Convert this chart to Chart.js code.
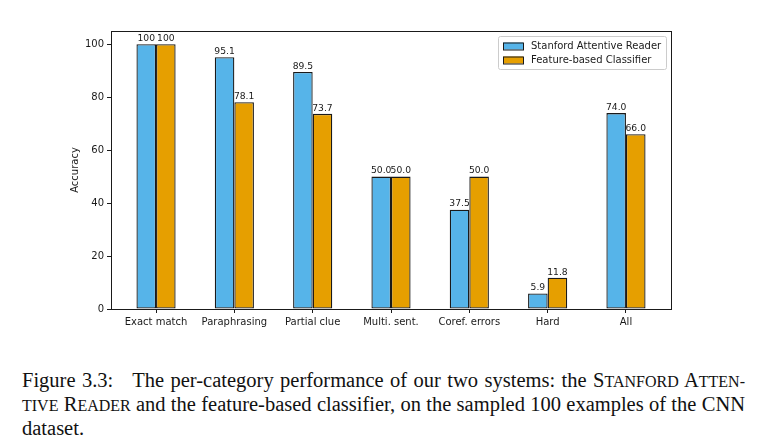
<!DOCTYPE html>
<html>
<head>
<meta charset="utf-8">
<script src="https://cdn.jsdelivr.net/npm/chart.js@4/dist/chart.umd.min.js"></script>
<style>
  body { margin: 0; background: #fff; }
  #wrap { position: relative; width: 765px; height: 446px; overflow: hidden; }
  #myChart { position: absolute; left: 0; top: 0; }
  .cap {
    position: absolute; left: 22px; top: 369px; width: 723px;
    font-family: "Liberation Serif", "Times New Roman", serif;
    font-size: 20.5px; line-height: 23px; color: #111;
  }
  .j { text-align: justify; text-align-last: justify; white-space: nowrap; }
  .sc { font-size: 0.78em; text-transform: uppercase; }
</style>
</head>
<body>
<div id="wrap">
  <canvas id="myChart" width="765" height="345"></canvas>
  <div class="cap">
    <div class="j">Figure 3.3:&nbsp;&nbsp; The per-category performance of our two systems: the S<span class="sc">tanford</span> A<span class="sc">tten-</span></div>
    <div class="j"><span class="sc">tive</span> R<span class="sc">eader</span> and the feature-based classifier, on the sampled 100 examples of the CNN</div>
    <div>dataset.</div>
  </div>
</div>
<script>
"use strict";
const categories = ["Exact match", "Paraphrasing", "Partial clue", "Multi. sent.", "Coref. errors", "Hard", "All"];
const stanfordReader = [100, 95.1, 89.5, 50.0, 37.5, 5.9, 74.0];
const featureClassifier = [100, 78.1, 73.7, 50.0, 50.0, 11.8, 66.0];
const yTicks = [0, 20, 40, 60, 80, 100];

const FONT = "DejaVu Sans";
const INK = "#1a1a1a";

function points(values) {
  return values.map(function (v, i) { return { x: i, y: v }; });
}

// frame around plot + value labels + boxed legend (matplotlib look)
const decorations = {
  id: "decorations",
  afterDatasetsDraw(chart) {
    const ctx = chart.ctx;
    const a = chart.chartArea;
    ctx.save();
    ctx.font = "9.2px " + FONT;
    ctx.fillStyle = INK;
    ctx.textAlign = "center";
    ctx.textBaseline = "bottom";
    chart.data.datasets.forEach(function (ds, i) {
      chart.getDatasetMeta(i).data.forEach(function (bar, j) {
        const v = ds.data[j].y;
        ctx.fillText(v === 100 ? "100" : v.toFixed(1), bar.x, bar.y - 1);
      });
    });
    // frame
    ctx.strokeStyle = INK;
    ctx.lineWidth = 1;
    ctx.strokeRect(Math.round(a.left) + 0.5, Math.round(a.top) + 0.5,
      Math.round(a.right - a.left), Math.round(a.bottom - a.top));
    // legend
    ctx.font = "10px " + FONT;
    const w = 168, h = 33;
    const lx = a.right - w - 5, ly = a.top + 5;
    ctx.fillStyle = "rgba(255,255,255,0.8)";
    ctx.strokeStyle = "#ccc";
    ctx.beginPath();
    ctx.roundRect(lx + 0.5, ly + 0.5, w, h, 2);
    ctx.fill();
    ctx.stroke();
    ctx.textAlign = "left";
    ctx.textBaseline = "middle";
    chart.data.datasets.forEach(function (ds, i) {
      const y = ly + 10 + i * 14;
      ctx.fillStyle = ds.backgroundColor;
      ctx.fillRect(lx + 5, y - 3.5, 20, 7);
      ctx.strokeStyle = ds.borderColor;
      ctx.strokeRect(lx + 5.5, y - 3, 20, 7);
      ctx.fillStyle = INK;
      ctx.fillText(ds.label, lx + 33, y + 0.5);
    });
    ctx.restore();
  },
};

const config = {
  type: "bar",
  data: {
    datasets: [
      {
        label: "Stanford Attentive Reader",
        data: points(stanfordReader),
        backgroundColor: "#56B4E9",
        borderColor: INK,
        borderWidth: 1.3,
        borderSkipped: false,
      },
      {
        label: "Feature-based Classifier",
        data: points(featureClassifier),
        backgroundColor: "#E69F00",
        borderColor: INK,
        borderWidth: 1.3,
        borderSkipped: false,
      },
    ],
  },
  options: {
    responsive: false,
    animation: false,
    categoryPercentage: 0.5,
    barPercentage: 1.0,
    layout: { padding: { left: 0, right: 94, top: 31, bottom: 0 } },
    plugins: { legend: { display: false }, tooltip: { enabled: false } },
    scales: {
      x: {
        type: "linear",
        offset: false,
        min: -0.575,
        max: 6.575,
        afterBuildTicks(s) { s.ticks = categories.map(function (c, i) { return { value: i }; }); },
        grid: { offset: false, drawOnChartArea: false, tickLength: 4, color: INK },
        border: { display: true, color: INK },
        ticks: {
          font: { family: FONT, size: 10 }, color: INK, padding: 3, maxRotation: 0, autoSkip: false,
          callback(v) { return categories[v]; },
        },
        afterFit(s) { s.height = 36; },
      },
      y: {
        min: 0,
        max: 105,
        afterBuildTicks(s) { s.ticks = yTicks.map(function (v) { return { value: v }; }); },
        grid: { drawOnChartArea: false, tickLength: 4, color: INK },
        border: { display: true, color: INK },
        ticks: { font: { family: FONT, size: 10 }, color: INK, padding: 3 },
        title: {
          display: true,
          text: "Accuracy",
          font: { family: FONT, size: 10 },
          color: INK,
          padding: { top: 69, bottom: 0 },
        },
        afterFit(s) { s.width = 111; },
      },
    },
  },
  plugins: [decorations],
};

const myChart = new Chart(document.getElementById("myChart"), config);
</script>
</body>
</html>
